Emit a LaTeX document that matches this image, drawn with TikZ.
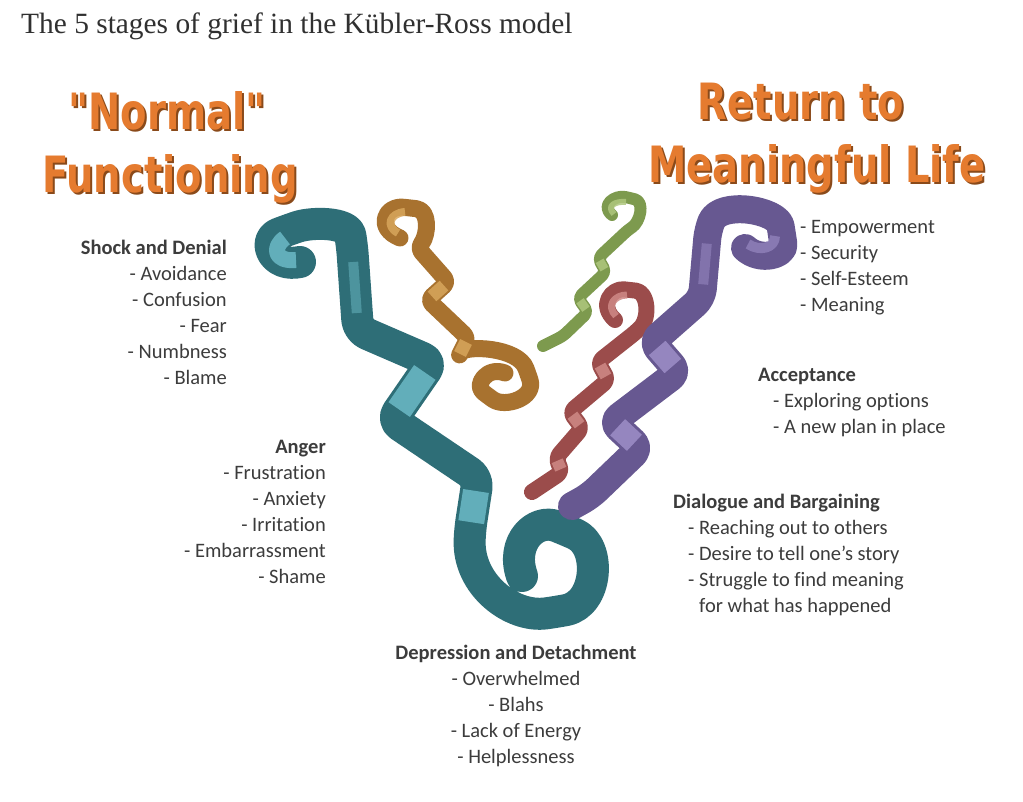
\documentclass[tikz,border=0pt]{standalone}
\usepackage{fontspec}
\setmainfont[Ligatures=NoCommon]{Carlito}
\newfontfamily\titlefont{Liberation Serif}
\newfontfamily\bannerfont[FakeStretch=0.77]{DejaVu Sans}
\usetikzlibrary{calc}
\definecolor{bannerorange}{HTML}{E57B2F}
\definecolor{bannershadow}{HTML}{8A4A1A}
\definecolor{bodygray}{HTML}{3C3C3C}
\definecolor{tealdark}{HTML}{2E6E77}
\definecolor{teallight}{HTML}{6CBAC6}
\definecolor{browndark}{HTML}{A8722F}
\definecolor{brownlight}{HTML}{D8A65C}
\definecolor{greendark}{HTML}{7D9A4E}
\definecolor{greenlight}{HTML}{AFC77E}
\definecolor{reddark}{HTML}{9B4C4B}
\definecolor{redlight}{HTML}{CF8A86}
\definecolor{purpledark}{HTML}{675891}
\definecolor{purplelight}{HTML}{9E8FC8}

\begin{document}
\begin{tikzpicture}[x=1pt, y=-1pt,
  banner/.style = {inner sep=0pt, text=bannerorange,
    font=\bannerfont\bfseries\fontsize{50}{56}\selectfont},
  bannerback/.style = {banner, text=bannershadow},
  stage/.style = {inner sep=0pt, text=bodygray,
    font=\fontsize{20.5}{26}\selectfont},
  ribbon/.style = {line width=#1, line cap=round, line join=round},
  sheen/.style = {line width=#1, line cap=butt, line join=round, opacity=.85}
  ]
  \fill[white] (0,0) rectangle (1023,802);
  \useasboundingbox (0,0) rectangle (1023,802);

  % title
  \node[inner sep=0pt, anchor=base west, text=bodygray!80!black,
    font=\titlefont\fontsize{29.4}{33}\selectfont] (title) at (21,34)
    {The 5 stages of grief in the Kübler-Ross model};

  % orange banners
  \node[bannerback, anchor=base] (normalbk) at (169,132) {"Normal"};
  \node[banner, anchor=base] (normal) at (167,130) {"Normal"};
  \node[bannerback, anchor=base] (functbk) at (172,195) {Functioning};
  \node[banner, anchor=base] (funct) at (170,193) {Functioning};
  \node[bannerback, anchor=base] (returnbk) at (803,122) {Return to};
  \node[banner, anchor=base] (return) at (801,120) {Return to};
  \node[bannerback, anchor=base] (lifebk) at (819,185) {Meaningful Life};
  \node[banner, anchor=base] (life) at (817,183) {Meaningful Life};

  % ribbon corners
  \coordinate (t1) at (352,245); \coordinate (t2) at (358,330);
  \coordinate (t3) at (432,362); \coordinate (t4) at (392,420);
  \coordinate (t5) at (478,478); \coordinate (t6) at (470,530);
  \coordinate (b1) at (418,248); \coordinate (b2) at (448,282);
  \coordinate (b3) at (428,300); \coordinate (b4) at (468,338);
  \coordinate (b5) at (458,358);
  \coordinate (g1) at (628,230); \coordinate (g2) at (598,258);
  \coordinate (g3) at (606,272); \coordinate (g4) at (578,298);
  \coordinate (g5) at (588,312); \coordinate (g6) at (563,336);
  \coordinate (g7) at (543,346);
  \coordinate (r1) at (636,332); \coordinate (r2) at (598,362);
  \coordinate (r3) at (608,380); \coordinate (r4) at (570,412);
  \coordinate (r5) at (582,428); \coordinate (r6) at (556,458);
  \coordinate (r7) at (562,472); \coordinate (r8) at (532,492);
  \coordinate (p1) at (708,230); \coordinate (p2) at (702,298);
  \coordinate (p3) at (652,342); \coordinate (p4) at (678,372);
  \coordinate (p5) at (612,422); \coordinate (p6) at (640,448);
  \coordinate (p7) at (590,496); \coordinate (p8) at (572,506);

  % teal ribbon
  \draw[ribbon=32pt, tealdark, rounded corners=10pt] (300,262)
    .. controls (272,268) and (262,240) .. (288,230)
    .. controls (312,222) and (348,222) .. (t1)
    -- (t2) -- (t3) -- (t4) -- (t5) -- (t6)
    .. controls (468,585) and (512,618) .. (556,612)
    .. controls (598,604) and (602,546) .. (566,530)
    .. controls (536,518) and (510,542) .. (522,576);
  \draw[sheen=16pt, teallight] (296,260) .. controls (274,262) and (272,247) .. (285,238);
  \draw[sheen=10pt, teallight, opacity=.5] ($(t1)!.2!(t2)$) -- ($(t1)!.8!(t2)$);
  \draw[sheen=26pt, teallight] ($(t3)!.18!(t4)$) -- ($(t3)!.82!(t4)$);
  \draw[sheen=26pt, teallight] ($(t5)!.25!(t6)$) -- ($(t5)!.85!(t6)$);

  % brown ribbon
  \draw[ribbon=17pt, browndark, rounded corners=6pt] (400,238)
    .. controls (375,228) and (385,205) .. (410,208)
    .. controls (430,210) and (428,235) .. (b1)
    -- (b2) -- (b3) -- (b4) -- (b5)
    .. controls (465,345) and (518,347) .. (528,374)
    .. controls (536,398) and (505,408) .. (488,396)
    .. controls (474,385) and (487,366) .. (505,373);
  \draw[sheen=8pt, brownlight] (398,233) .. controls (385,226) and (390,213) .. (405,212);
  \draw[sheen=13pt, brownlight] ($(b2)!.2!(b3)$) -- ($(b2)!.8!(b3)$);
  \draw[sheen=13pt, brownlight] ($(b4)!.2!(b5)$) -- ($(b4)!.8!(b5)$);

  % green ribbon
  \draw[ribbon=12pt, greendark, rounded corners=5pt] (612,215)
    .. controls (600,205) and (615,195) .. (630,198)
    .. controls (645,202) and (640,222) .. (g1)
    -- (g2) -- (g3) -- (g4) -- (g5) -- (g6) -- (g7);
  \draw[sheen=9pt, greenlight] ($(g2)!.2!(g3)$) -- ($(g2)!.8!(g3)$);
  \draw[sheen=9pt, greenlight] ($(g4)!.2!(g5)$) -- ($(g4)!.8!(g5)$);
  \draw[sheen=6pt, greenlight] (614,214) .. controls (606,206) and (615,201) .. (626,202);

  % red ribbon
  \draw[ribbon=16pt, reddark, rounded corners=6pt] (615,320)
    .. controls (598,305) and (612,288) .. (630,290)
    .. controls (648,292) and (650,318) .. (r1)
    -- (r2) -- (r3) -- (r4) -- (r5) -- (r6) -- (r7) -- (r8);
  \draw[sheen=12pt, redlight] ($(r2)!.2!(r3)$) -- ($(r2)!.8!(r3)$);
  \draw[sheen=12pt, redlight] ($(r4)!.2!(r5)$) -- ($(r4)!.8!(r5)$);
  \draw[sheen=12pt, redlight] ($(r6)!.2!(r7)$) -- ($(r6)!.8!(r7)$);
  \draw[sheen=7pt, redlight] (616,316) .. controls (606,306) and (614,295) .. (627,295);

  % purple ribbon
  \draw[ribbon=28pt, purpledark, rounded corners=9pt] (745,248)
    .. controls (760,262) and (785,255) .. (782,235)
    .. controls (778,210) and (720,200) .. (p1)
    -- (p2) -- (p3) -- (p4) -- (p5) -- (p6) -- (p7) -- (p8);
  \draw[sheen=22pt, purplelight] ($(p3)!.2!(p4)$) -- ($(p3)!.8!(p4)$);
  \draw[sheen=22pt, purplelight] ($(p5)!.2!(p6)$) -- ($(p5)!.8!(p6)$);
  \draw[sheen=10pt, purplelight, opacity=.5] ($(p1)!.2!(p2)$) -- ($(p1)!.8!(p2)$);
  \draw[sheen=10pt, purplelight, opacity=.6] (748,244) .. controls (760,252) and (775,248) .. (775,236);

  % stage texts
  \node[stage, anchor=north east, align=right] (shock) at (227,240)
    {\textbf{Shock and Denial}\\- Avoidance\\- Confusion\\- Fear\\- Numbness\\- Blame};
  \node[stage, anchor=north east, align=right] (anger) at (326,440)
    {\textbf{Anger}\\- Frustration\\- Anxiety\\- Irritation\\- Embarrassment\\- Shame};
  \node[stage, anchor=north, align=center] (depression) at (516,645)
    {\textbf{Depression and Detachment}\\- Overwhelmed\\- Blahs\\- Lack of Energy\\- Helplessness};
  \node[stage, anchor=north west, align=left] (dialogue) at (673,494)
    {\textbf{Dialogue and Bargaining}\\
     \hspace*{15pt}- Reaching out to others\\
     \hspace*{15pt}- Desire to tell one’s story\\
     \hspace*{15pt}- Struggle to find meaning\\
     \hspace*{26pt}for what has happened};
  \node[stage, anchor=north west, align=left] (acceptance) at (758,368)
    {\textbf{Acceptance}\\
     \hspace*{15pt}- Exploring options\\
     \hspace*{15pt}- A new plan in place};
  \node[stage, anchor=north west, align=left] (meaning) at (800,220)
    {- Empowerment\\- Security\\- Self-Esteem\\- Meaning};
\end{tikzpicture}
\end{document}
